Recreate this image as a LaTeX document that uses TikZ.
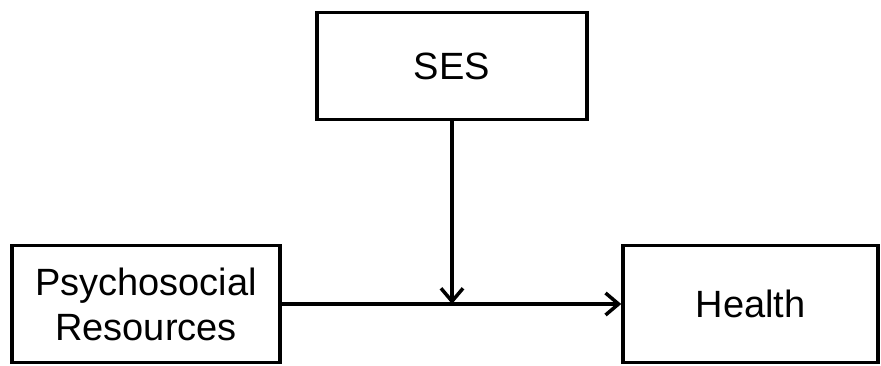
\documentclass[tikz,border=0pt]{standalone}
\usepackage{fontspec}
\setmainfont{Liberation Sans}
\usetikzlibrary{arrows.meta,calc}
\tikzstyle{box} = [draw, line width = 3.5pt, align = center, inner sep = 0pt,
    font = \fontsize{38}{45}\selectfont]
\tikzstyle{line} = [draw, line width = 3.5pt, -{Straight Barb[length=13pt,width=22pt,line width=3.5pt]}]

\begin{document}
\begin{tikzpicture}[
            x = 1pt, y = -1pt, % pixel-like units, y downwards
            line join = miter
        ]

        \useasboundingbox (0,0) rectangle (881,365);

        \node[box, minimum width = 270pt, minimum height = 107pt] (ses) at (452,66) {SES};
        \node[box, minimum width = 268pt, minimum height = 117pt] (psy) at (146,304) {Psychosocial\\Resources};
        \node[box, minimum width = 255pt, minimum height = 117pt] (health) at (750.5,304) {Health};

        \coordinate (mod) at (ses.south |- psy.east);

        \path[line] (psy) -- (health);
        \path[line] (ses) -- (mod);

    \end{tikzpicture}
\end{document}
